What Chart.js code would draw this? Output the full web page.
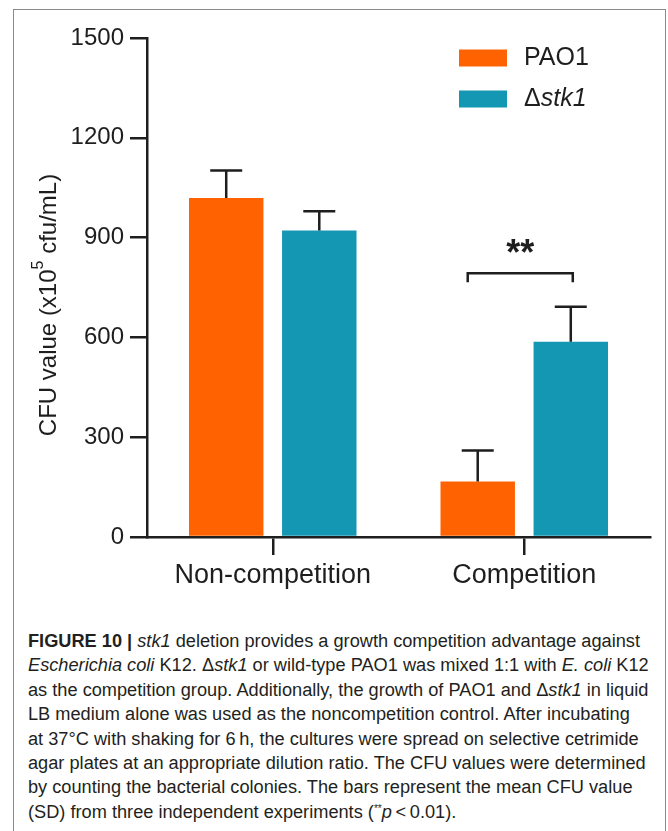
<!DOCTYPE html>
<html>
<head>
<meta charset="utf-8">
<script src="https://cdn.jsdelivr.net/npm/chart.js@4.4.1/dist/chart.umd.min.js"></script>
<style>
  html, body { margin: 0; padding: 0; background: #fff; }
  body { width: 668px; height: 831px; position: relative; overflow: hidden; font-family: "Liberation Sans", Arial, sans-serif; }
  #frame { position: absolute; left: 13px; top: 9px; width: 651px; height: 900px; border: 1px solid #8a8a8a; border-bottom: none; }
  #chart { position: absolute; left: 0; top: 0; }
  #caption { position: absolute; left: 28px; top: 629px; font-family: "Liberation Sans Narrow", "Liberation Sans", Arial, sans-serif; font-size: 18px; line-height: 24.4px; color: #231f20; transform-origin: 0 0; white-space: nowrap; }
  #caption div { height: 24.4px; }
  #caption sup { font-size: 10px; line-height: 0; vertical-align: 6px; }
</style>
</head>
<body>
<div id="frame"></div>
<canvas id="chart" width="668" height="600"></canvas>
<div id="caption">
  <div id="capLine1"><b>FIGURE 10 | </b><i>stk1</i> deletion provides a growth competition advantage against</div>
  <div><i>Escherichia coli</i> K12. Δ<i>stk1</i> or wild-type PAO1 was mixed 1:1 with <i>E. coli</i> K12</div>
  <div>as the competition group. Additionally, the growth of PAO1 and Δ<i>stk1</i> in liquid</div>
  <div>LB medium alone was used as the noncompetition control. After incubating</div>
  <div>at 37°C with shaking for 6&thinsp;h, the cultures were spread on selective cetrimide</div>
  <div>agar plates at an appropriate dilution ratio. The CFU values were determined</div>
  <div>by counting the bacterial colonies. The bars represent the mean CFU value</div>
  <div>(SD) from three independent experiments (<sup>**</sup><i>p</i>&thinsp;&lt;&thinsp;0.01).</div>
</div>
<script>
// data
const categories = ['Non-competition', 'Competition'];
const seriesNames = ['PAO1', 'Δstk1'];
const pao1Mean = [1019, 167];
const pao1Sd = [83, 93];
const stk1Mean = [921, 587];
const stk1Sd = [58, 105];
const yTicks = [0, 300, 600, 900, 1200, 1500];
const sigLabel = '**';
const sigBracketValue = 793;

const FONT = '"Liberation Sans", Arial, sans-serif';
const INK = '#1e1e1e';
const colors = ['#FF6200', '#1497B2'];

// error bars (upward only, as in the figure)
const errorBars = {
    id: 'errorBars',
    afterDatasetsDraw(chart) {
        const ctx = chart.ctx;
        const y = chart.scales.y;
        const sds = [pao1Sd, stk1Sd];
        ctx.save();
        ctx.strokeStyle = INK;
        ctx.lineWidth = 2.5;
        chart.data.datasets.forEach((ds, di) => {
            chart.getDatasetMeta(di).data.forEach((bar, i) => {
                const top = y.getPixelForValue(ds.data[i] + sds[di][i]);
                ctx.beginPath();
                ctx.moveTo(bar.x, bar.y);
                ctx.lineTo(bar.x, top);
                ctx.moveTo(bar.x - 16, top);
                ctx.lineTo(bar.x + 16, top);
                ctx.stroke();
            });
        });
        ctx.restore();
    }
};

// significance bracket over the competition group
const sigBracket = {
    id: 'sigBracket',
    afterDatasetsDraw(chart) {
        const ctx = chart.ctx;
        const y = chart.scales.y;
        const a = chart.getDatasetMeta(0).data[1];
        const b = chart.getDatasetMeta(1).data[1];
        const x1 = a.x - 10, x2 = b.x + 2;
        const yl = y.getPixelForValue(sigBracketValue);
        ctx.save();
        ctx.strokeStyle = INK;
        ctx.lineWidth = 2.5;
        ctx.beginPath();
        ctx.moveTo(x1, yl + 9);
        ctx.lineTo(x1, yl);
        ctx.lineTo(x2, yl);
        ctx.lineTo(x2, yl + 9);
        ctx.stroke();
        ctx.fillStyle = INK;
        ctx.font = 'bold 36px ' + FONT;
        ctx.textAlign = 'center';
        ctx.textBaseline = 'middle';
        ctx.fillText(sigLabel, (x1 + x2) / 2, yl - 18);
        ctx.restore();
    }
};

// legend inside the plot, top right
const innerLegend = {
    id: 'innerLegend',
    afterDraw(chart) {
        const ctx = chart.ctx;
        ctx.save();
        ctx.textBaseline = 'middle';
        chart.data.datasets.forEach((ds, i) => {
            const cy = 58 + i * 41;
            ctx.fillStyle = ds.backgroundColor;
            ctx.fillRect(459, cy - 8.5, 48, 17);
            ctx.fillStyle = INK;
            let x = 524;
            let name = ds.label;
            if (name.startsWith('Δ')) {
                ctx.font = '25px ' + FONT;
                ctx.fillText('Δ', x, cy);
                x += ctx.measureText('Δ').width;
                name = name.slice(1);
                ctx.font = 'italic 25px ' + FONT;
            } else {
                ctx.font = '25px ' + FONT;
            }
            ctx.fillText(name, x, cy);
        });
        ctx.restore();
    }
};

// y title with a real superscript
const yTitle = {
    id: 'yTitle',
    afterDraw(chart) {
        const ctx = chart.ctx;
        const parts = [
            { t: 'CFU value (x10', f: '24px ' + FONT, dy: 0 },
            { t: '5', f: '16px ' + FONT, dy: -10 },
            { t: ' cfu/mL)', f: '24px ' + FONT, dy: 0 }
        ];
        ctx.save();
        let total = 0;
        parts.forEach(p => { ctx.font = p.f; p.w = ctx.measureText(p.t).width; total += p.w; });
        ctx.translate(48, 305);
        ctx.rotate(-Math.PI / 2);
        ctx.fillStyle = INK;
        ctx.textBaseline = 'middle';
        let x = -total / 2;
        parts.forEach(p => {
            ctx.font = p.f;
            ctx.fillText(p.t, x, p.dy + 1);
            x += p.w;
        });
        ctx.restore();
    }
};

new Chart(document.getElementById('chart'), {
    type: 'bar',
    data: {
        labels: categories,
        datasets: [
            { label: seriesNames[0], data: pao1Mean, backgroundColor: colors[0], barPercentage: 0.8, categoryPercentage: 0.74 },
            { label: seriesNames[1], data: stk1Mean, backgroundColor: colors[1], barPercentage: 0.8, categoryPercentage: 0.74 }
        ]
    },
    options: {
        responsive: false,
        animation: false,
        devicePixelRatio: 1,
        layout: { padding: { top: 38, right: 18, left: 0, bottom: 0 } },
        plugins: { legend: { display: false }, tooltip: { enabled: false } },
        scales: {
            x: {
                afterFit: (s) => { s.height = 63; },
                grid: { offset: false, drawOnChartArea: false, tickLength: 18, color: INK, lineWidth: 2.5 },
                border: { color: INK, width: 2.5 },
                ticks: { color: INK, padding: 4, font: { family: FONT, size: 27 } }
            },
            y: {
                min: 0,
                max: 1500,
                afterFit: (s) => { s.width = 147; },
                afterBuildTicks: (s) => { s.ticks = yTicks.map(v => ({ value: v })); },
                grid: { drawOnChartArea: false, tickLength: 17, color: INK, lineWidth: 2.5 },
                border: { color: INK, width: 2.5 },
                ticks: { color: INK, padding: 6, font: { family: FONT, size: 24 }, callback: (v) => String(v) }
            }
        }
    },
    plugins: [errorBars, sigBracket, innerLegend, yTitle]
});

// fit the caption to the printed line width
const cap = document.getElementById('caption');
const range = document.createRange();
range.selectNodeContents(document.getElementById('capLine1'));
const tw = range.getBoundingClientRect().width;
cap.style.transform = 'scaleX(' + (612 / tw) + ')';
</script>
</body>
</html>
